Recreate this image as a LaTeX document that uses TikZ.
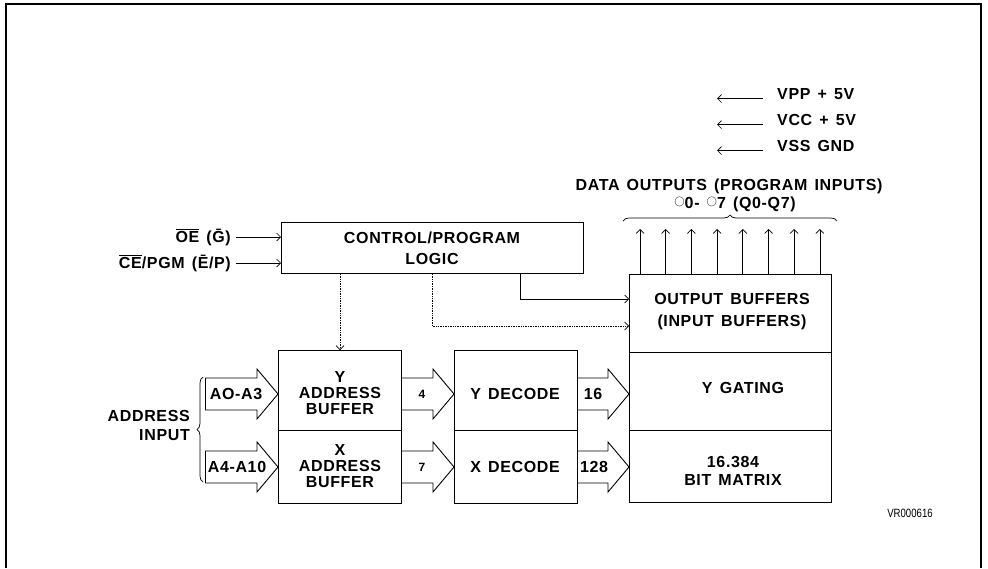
\documentclass[tikz,border=0pt]{standalone}
\usepackage{graphicx}
\usepackage{fontspec}
\setmainfont{Liberation Sans}[LetterSpace=4,WordSpace=1.4]
\newfontfamily\tagfont{Liberation Sans}
\usetikzlibrary{calc,decorations.pathreplacing,arrows.meta}

% wide hollow bus arrow from the x of #1 to the x of #2, centred on y = #3
\newcommand\fatarrow[3]{%
  \draw[fat] ($(#1 |- 0,#3)+(0,-16)$) -- ($(#2 |- 0,#3)+(-21,-16)$) -- ++(0,-9)
    -- (#2 |- 0,#3) -- ($(#2 |- 0,#3)+(-21,25)$) -- ++(0,-9)
    -- ($(#1 |- 0,#3)+(0,16)$);}

\begin{document}
\begin{tikzpicture}[x=1pt,y=-1pt,
  box/.style={draw, line width=1pt, anchor=north west, inner sep=0pt},
  txt/.style={font=\fontsize{16}{#1}\selectfont\bfseries, align=center, inner sep=0pt},
  txt/.default=18,
  small/.style={font=\fontsize{12}{12}\selectfont\bfseries, inner sep=0pt},
  wire/.style={line width=0.7pt},
  tip/.style={-{Straight Barb[length=4pt,width=8pt]}},
  sig/.style={wire,tip},
  dots/.style={wire, densely dotted, tip},
  fat/.style={line width=0.9pt, line join=miter},
  brc/.style={decorate, decoration={brace, amplitude=6pt}, line width=0.7pt}]
\useasboundingbox (0,0) rectangle (988,568);

% page frame
\draw[line width=1.8pt] (6,568) -- (6,4) -- (981,4) -- (981,568);

% blocks
\node[box, minimum width=302pt, minimum height=51pt] (ctrl) at (281,222) {};
\node[box, minimum width=123pt, minimum height=80pt] (yab)  at (278,350) {};
\node[box, minimum width=123pt, minimum height=73pt] (xab)  at (278,430) {};
\node[box, minimum width=123pt, minimum height=80pt] (ydec) at (454,350) {};
\node[box, minimum width=123pt, minimum height=73pt] (xdec) at (454,430) {};
\node[box, minimum width=202pt, minimum height=78pt] (ob)   at (629,274) {};
\node[box, minimum width=202pt, minimum height=78pt] (yg)   at (629,352) {};
\node[box, minimum width=202pt, minimum height=72pt] (bm)   at (629,430) {};

% block texts
\node[txt=21] at (432,248) {CONTROL/PROGRAM\\LOGIC};
\node[txt=16] at (340,393) {Y\\ADDRESS\\BUFFER};
\node[txt=16] at (340,466) {X\\ADDRESS\\BUFFER};
\node[txt] at (515,394) {Y DECODE};
\node[txt] at (515,467) {X DECODE};
\node[txt=22] at (732,312) {OUTPUT BUFFERS\\(INPUT BUFFERS)};
\node[txt] at (743,388) {Y GATING};
\node[txt=18] at (733,471) {16.384\\BIT MATRIX};

% control inputs
\node[txt, anchor=east] (oe) at (231,237) {$\overline{\mbox{OE}}$ (\=G)};
\node[txt, anchor=east] (ce) at (231,263) {$\overline{\mbox{CE}}$/PGM (\=E/P)};
\draw[sig] ([xshift=5pt]oe.east) -- (ctrl.west |- oe.east);
\draw[sig] ([xshift=5pt]ce.east) -- (ctrl.west |- ce.east);

% control outputs
\draw[sig]  (ctrl.south -| 520,0) |- (ob.west |- 0,299);
\draw[dots] (ctrl.south -| 432,0) |- (ob.west |- 0,326);
\draw[dots] (ctrl.south -| 340,0) -- (yab.north -| 340,0);

% address inputs
\coordinate (ya) at (205,394);
\coordinate (xa) at (205,467);
\fatarrow{ya}{yab.west}{394}
\fatarrow{xa}{xab.west}{467}
\draw[fat] ($(ya)+(0,-16)$) -- ($(ya)+(0,16)$);
\draw[fat] ($(xa)+(0,-16)$) -- ($(xa)+(0,16)$);
\node[txt] at (236,394) {AO-A3};
\node[txt] at (237,467) {A4-A10};

\node[txt=19, anchor=east, align=right] (addr) at (190,425) {ADDRESS\\INPUT};
\coordinate (abot) at (203,482);
\coordinate (atop) at (203,377);
\draw[brc] (abot) -- (atop);

% buses between blocks
\fatarrow{yab.east}{ydec.west}{394}
\fatarrow{xab.east}{xdec.west}{467}
\fatarrow{ydec.east}{yg.west}{394}
\fatarrow{xdec.east}{bm.west}{467}
\node[small] at (422,394) {4};
\node[small] at (422,467) {7};
\node[txt] at (593,394) {16};
\node[txt] at (594,467) {128};

% data outputs
\foreach \i in {0,...,7} {
  \coordinate (q\i) at ({640+25.7*\i},229);
  \draw[sig] (ob.north -| q\i) -- (q\i);
}
\coordinate (bl) at (623,221);
\coordinate (br) at (837,221);
\draw[brc] (bl) -- (br);
\node[txt] (dout) at (729,186) {DATA OUTPUTS (PROGRAM INPUTS)};
\node[txt] at (735,204) {\raisebox{.45ex}{\scalebox{.6}{\mdseries$\bigcirc$}}0- \raisebox{.45ex}{\scalebox{.6}{\mdseries$\bigcirc$}}7 (Q0-Q7)};

% supply pins
\node[txt, anchor=west] (vpp) at (777,94)  {VPP + 5V};
\node[txt, anchor=west] (vcc) at (777,120) {VCC + 5V};
\node[txt, anchor=west] (vss) at (777,146) {VSS GND};
\foreach \p in {vpp,vcc,vss}
  \draw[sig] ($(\p.west)+(-14,4.5)$) -- ($(\p.west)+(-60,4.5)$);

% drawing reference
\node[font=\tagfont\fontsize{12}{12}\selectfont, inner sep=0pt] (tag) at (910,513) {\scalebox{0.8}[1]{VR000616}};
\end{tikzpicture}
\end{document}
